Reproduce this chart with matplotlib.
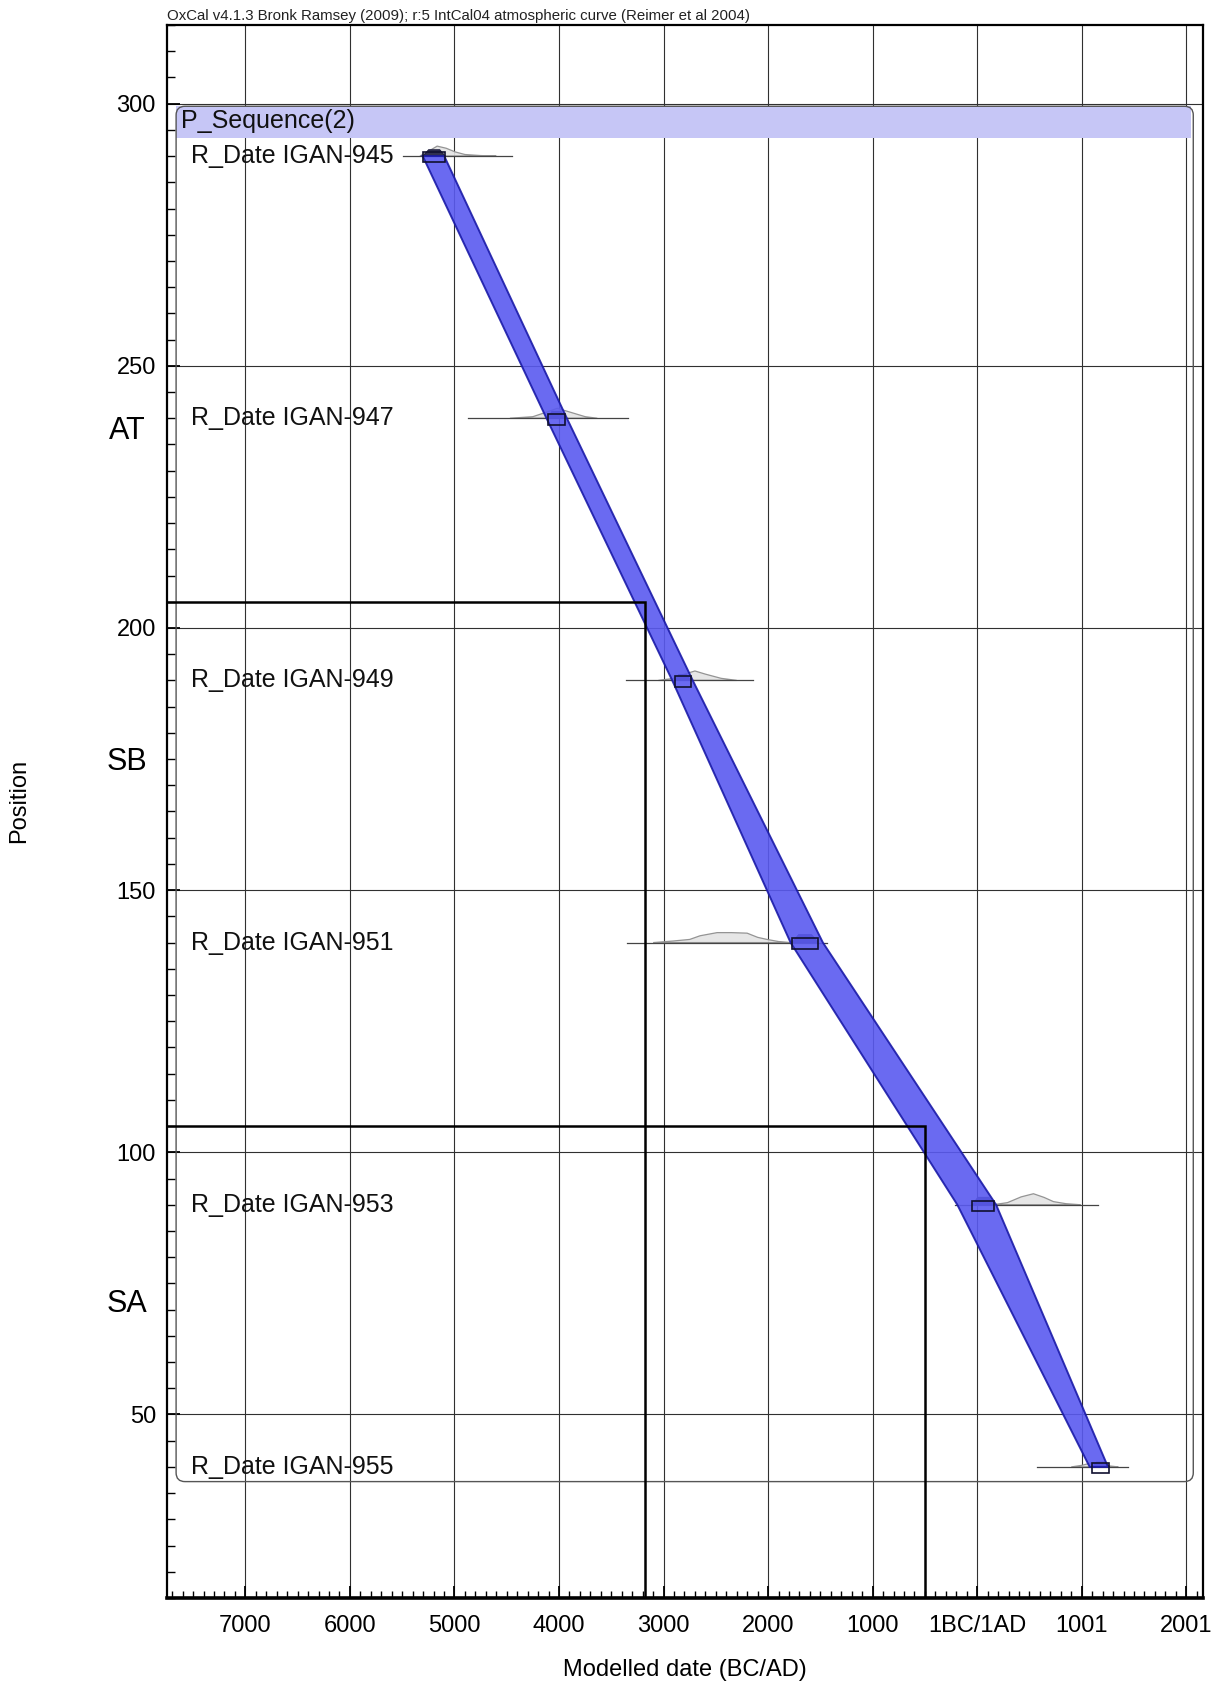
import matplotlib
matplotlib.use('Agg')
import matplotlib.pyplot as plt
from matplotlib.patches import FancyBboxPatch, Rectangle, Polygon
from matplotlib.ticker import MultipleLocator
import matplotlib.transforms as mtransforms

plt.rcParams['font.family'] = ['Liberation Sans', 'DejaVu Sans']

# ---------------- data ----------------
title_text = "OxCal v4.1.3 Bronk Ramsey (2009); r:5 IntCal04 atmospheric curve (Reimer et al 2004)"
x_label = "Modelled date (BC/AD)"
y_label = "Position"
x_tick_values = [-7000, -6000, -5000, -4000, -3000, -2000, -1000, 0, 1000, 2000]
x_tick_labels = ["7000", "6000", "5000", "4000", "3000", "2000", "1000", "1BC/1AD", "1001", "2001"]
y_tick_values = [50, 100, 150, 200, 250, 300]
x_limits = (-7750, 2160)
y_limits = (15, 315)

sequence_name = "P_Sequence(2)"
sequence_box_x = (-7663, 2067)
sequence_box_y = (37.2, 299.5)
sequence_header_bottom = 293.5

sample_labels = ["R_Date IGAN-945", "R_Date IGAN-947", "R_Date IGAN-949",
                 "R_Date IGAN-951", "R_Date IGAN-953", "R_Date IGAN-955"]
sample_positions = [290, 240, 190, 140, 90, 40]
line_lo = [-5489, -4870, -3359, -3350, -209, 575]
line_hi = [-4450, -3339, -2145, -1436, 1159, 1446]
post_lo = [-5300, -4110, -2895, -1770, -46, 1099]
post_hi = [-5089, -3940, -2742, -1522, 165, 1265]
post_peak = [1.2, 1.3, 1.1, 1.5, 1.4, 0.9]

like_dates = [
    [-5330, -5250, -5166, -5080, -4994, -4900, -4750, -4600],
    [-4470, -4250, -4100, -4017, -3900, -3750, -3634],
    [-3050, -2900, -2800, -2700, -2600, -2450, -2300],
    [-3100, -2909, -2750, -2651, -2488, -2350, -2201, -2100, -2010, -1900, -1790],
    [150, 289, 420, 538, 640, 729, 850, 988],
    [900, 1000, 1100, 1180, 1260, 1350],
]
like_heights = [
    [0, 0.9, 1.9, 1.5, 0.8, 0.3, 0.1, 0],
    [0, 0.3, 1.3, 1.9, 1.2, 0.3, 0],
    [0, 0.4, 1.2, 1.8, 1.2, 0.4, 0],
    [0, 0.3, 0.6, 1.3, 1.9, 1.9, 1.8, 1.0, 0.6, 0.2, 0],
    [0, 0.4, 1.5, 2.1, 1.4, 0.6, 0.2, 0],
    [0, 0.3, 0.8, 0.6, 0.2, 0],
]

band_positions = [290, 240, 190, 140, 90, 40]
band_old = [-5304, -4120, -2917, -1785, -190, 1076]
band_young = [-5098, -3925, -2721, -1476, 181, 1251]

zone_names = ["AT", "SB", "SA"]
zone_label_pos = [237.6, 174.5, 71.1]
boundary_positions = [205, 105]
boundary_dates = [-3180, -500]

# ---------------- figure ----------------
W, H = 1214, 1686
fig = plt.figure(figsize=(W / 100, H / 100), dpi=100)
ax_left, ax_right, ax_top, ax_bottom = 167, 1203, 25, 1598
ax = fig.add_axes([ax_left / W, 1 - ax_bottom / H, (ax_right - ax_left) / W, (ax_bottom - ax_top) / H])
ax.set_xlim(*x_limits)
ax.set_ylim(*y_limits)

# grid
for xv in x_tick_values:
    ax.axvline(xv, color='#303030', lw=0.8, zorder=1)
for yv in y_tick_values:
    ax.axhline(yv, color='#303030', lw=0.8, zorder=1)

# ticks
ax.set_xticks(x_tick_values)
ax.set_xticklabels(x_tick_labels, fontsize=17)
ax.xaxis.set_minor_locator(MultipleLocator(100))
ax.set_yticks(y_tick_values)
ax.set_yticklabels([str(v) for v in y_tick_values], fontsize=17)
ax.yaxis.set_minor_locator(MultipleLocator(5))
ax.tick_params(axis='x', which='major', direction='in', length=9, width=1.3, pad=12, top=False)
ax.tick_params(axis='x', which='minor', direction='in', length=5, width=1.0, top=False)
ax.tick_params(axis='y', which='major', direction='in', length=9, width=1.3, pad=8, right=False)
ax.tick_params(axis='y', which='minor', direction='in', length=6, width=1.0, right=False)
for s in ['left', 'right', 'top']:
    ax.spines[s].set_linewidth(1.6)
ax.spines['bottom'].set_linewidth(2.6)

# sequence box
px_per_x = (ax_right - ax_left) / (x_limits[1] - x_limits[0])
px_per_y = (ax_bottom - ax_top) / (y_limits[1] - y_limits[0])
aspect = px_per_x / px_per_y
ax.add_patch(Rectangle((sequence_box_x[0], sequence_header_bottom),
                       sequence_box_x[1] - sequence_box_x[0] - 20,
                       sequence_box_y[1] - sequence_header_bottom,
                       facecolor='#c6c6f6', edgecolor='none', zorder=2))
ax.add_patch(FancyBboxPatch((sequence_box_x[0], sequence_box_y[0]),
                            sequence_box_x[1] - sequence_box_x[0],
                            sequence_box_y[1] - sequence_box_y[0],
                            boxstyle='round,pad=0,rounding_size=85', mutation_aspect=aspect,
                            facecolor='none', edgecolor='#555555', lw=1.0, zorder=3))
ax.text(-7619, 296.7, sequence_name, fontsize=18, va='center', ha='left', color='#111111', zorder=6)

# samples
for i, lab in enumerate(sample_labels):
    p = sample_positions[i]
    ax.text(-7516, p, lab, fontsize=18, va='center', ha='left', color='#111111', zorder=6)
    ax.plot([line_lo[i], line_hi[i]], [p, p], color='#444444', lw=0.9, zorder=4)
    ax.fill([d for d in like_dates[i]], [p + h for h in like_heights[i]],
            facecolor='#e4e4e4', edgecolor='#8a8a8a', lw=0.9, zorder=3.5, alpha=0.9)
    w = post_hi[i] - post_lo[i]
    ax.add_patch(Polygon([(post_lo[i], p), (post_lo[i] + 0.25 * w, p + post_peak[i]),
                          (post_hi[i] - 0.25 * w, p + post_peak[i]), (post_hi[i], p)],
                         closed=True, facecolor='#303050', edgecolor='#202040', lw=0.8, zorder=4.5))
    ax.add_patch(Rectangle((post_lo[i], p - 1.2), w, 2.0, facecolor='none',
                           edgecolor='#101030', lw=1.2, zorder=7))

# model band
poly = list(zip(band_old, band_positions)) + list(zip(band_young[::-1], band_positions[::-1]))
ax.add_patch(Polygon(poly, closed=True, facecolor='#5a5af0', edgecolor='#1a1aa8',
                     lw=1.4, alpha=0.9, zorder=5))

# zone boundaries
for bp, bd in zip(boundary_positions, boundary_dates):
    ax.plot([x_limits[0], bd, bd], [bp, bp, y_limits[0]], color='black', lw=1.8,
            zorder=6, solid_joinstyle='miter')

# zone names
trans = mtransforms.blended_transform_factory(ax.transAxes, ax.transData)
for zn, zp in zip(zone_names, zone_label_pos):
    ax.text(-0.0386, zp, zn, transform=trans, fontsize=22, ha='center', va='center', clip_on=False)

# labels
fig.text(ax_left / W, 1 - 16 / H, title_text, fontsize=10.8, ha='left', va='center', color='#222222')
fig.text(19 / W, 1 - 801 / H, y_label, fontsize=17, rotation=90, ha='center', va='center')
fig.text((ax_left + ax_right) / 2 / W, 1 - 1670 / H, x_label, fontsize=17, ha='center', va='center')

fig.savefig('out.png', dpi=100)
